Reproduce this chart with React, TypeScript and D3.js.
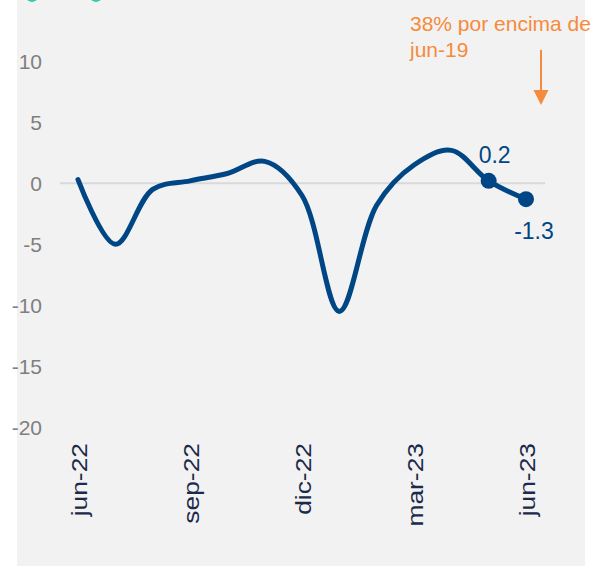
import React from "react";
import * as d3 from "d3";

const months = ["jun-22","jul-22","ago-22","sep-22","oct-22","nov-22","dic-22","ene-23","feb-23","mar-23","abr-23","may-23","jun-23"];
const values = [0.3, -5.0, -0.5, 0.2, 0.8, 1.8, -1.0, -10.5, -1.8, 1.5, 2.7, 0.2, -1.3];
const xTickLabels = ["jun-22", "sep-22", "dic-22", "mar-23", "jun-23"];
const yTicks = [10, 5, 0, -5, -10, -15, -20];
const labelledIdx = [11, 12];
const annotationLines = ["38% por encima de", "jun-19"];

const W = 596, H = 566;
const FONT = "'Liberation Sans', Arial, sans-serif";

export default function App() {
  const x = d3.scalePoint<string>().domain(months).range([78, 526]);
  const y = d3.scaleLinear().domain([-20, 10]).range([427.3, 61.3]);
  const line = d3.line<number>()
    .x((_, i) => x(months[i]) as number)
    .y((d) => y(d))
    .curve(d3.curveCatmullRom.alpha(0.5));
  const blue = "#004684";
  const orange = "#f58b3c";
  return (
    <svg width={W} height={H} style={{ position: "fixed", left: 0, top: 0, background: "#fff" }} fontFamily={FONT}>
      <rect x={17} y={0} width={568} height={H} fill="#f2f2f2" />
      <circle cx={32} cy={-4} r={6} fill="#3cc8b4" />
      <circle cx={96} cy={-4} r={6} fill="#3cc8b4" />
      {yTicks.map((t) => (
        <text key={t} x={42} y={y(t)} dy="0.36em" textAnchor="end" fontSize={21} fill="#7f7f7f">{t}</text>
      ))}
      <line x1={60} x2={545} y1={y(0)} y2={y(0)} stroke="#d9d9d9" strokeWidth={2} />
      <path d={line(values) || ""} fill="none" stroke={blue} strokeWidth={5} strokeLinecap="round" strokeLinejoin="round" />
      {labelledIdx.map((i) => (
        <circle key={i} cx={x(months[i])} cy={y(values[i])} r={8} fill={blue} />
      ))}
      <text x={(x(months[11]) as number) + 6} y={y(values[11]) - 18} textAnchor="middle" fontSize={23} fill={blue}>{values[11].toFixed(1)}</text>
      <text x={(x(months[12]) as number) + 8} y={y(values[12]) + 40} textAnchor="middle" fontSize={23} fill={blue}>{values[12].toFixed(1)}</text>
      {xTickLabels.map((m) => (
        <text key={m} transform={`translate(${(x(m) as number) + 1},443) rotate(-90) scale(1.2,1)`} dy="0.35em" textAnchor="end" fontSize={22} fill="#1b2a4a">{m}</text>
      ))}
      {annotationLines.map((s, i) => (
        <text key={s} x={410} y={31 + i * 26} fontSize={21} fill={orange}>{s}</text>
      ))}
      <line x1={541} x2={541} y1={50} y2={92} stroke={orange} strokeWidth={2} />
      <path d="M533.5,90 L548.5,90 L541,105 Z" fill={orange} />
    </svg>
  );
}
